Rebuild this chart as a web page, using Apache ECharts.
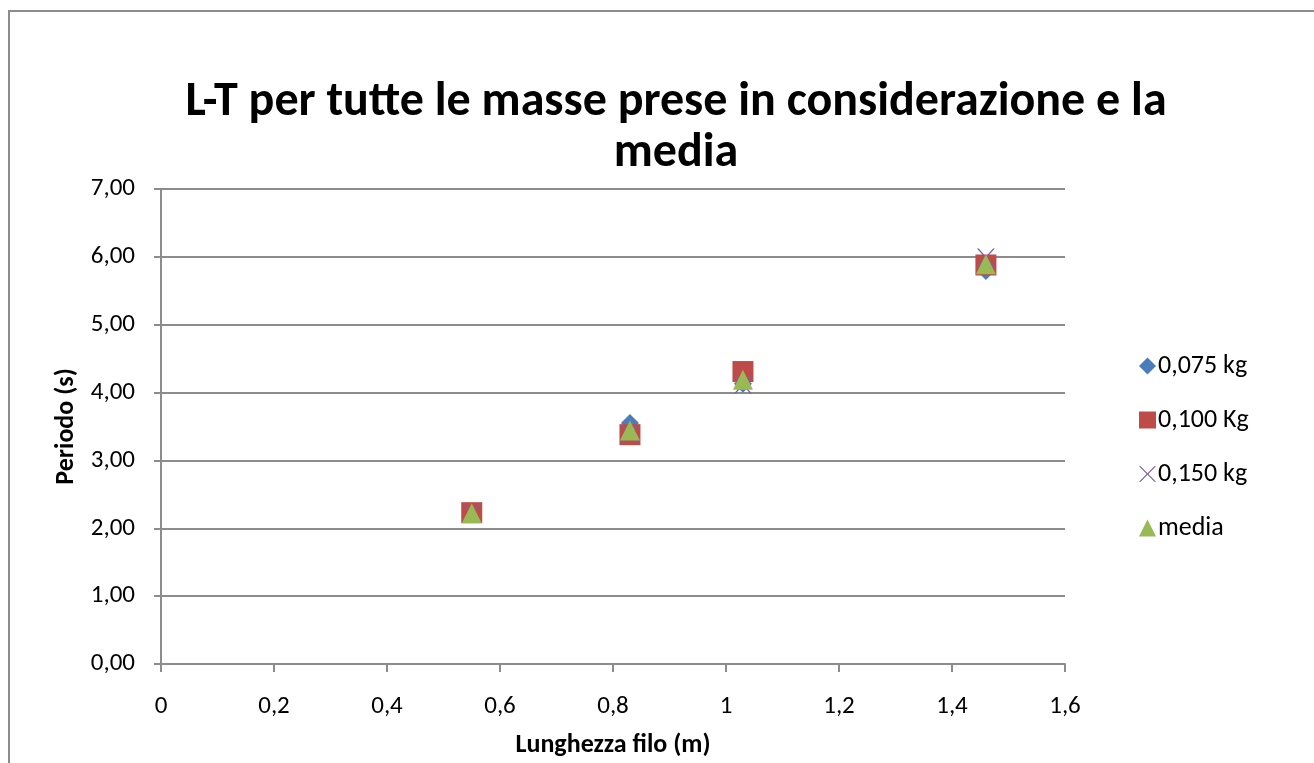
<!DOCTYPE html>
<html>
<head>
<meta charset="utf-8">
<script src="https://cdn.jsdelivr.net/npm/echarts@6/dist/echarts.min.js"></script>
<style>
  html, body { margin: 0; padding: 0; background: #fff; }
  #frame { position: absolute; left: 8px; top: 10px; width: 1320px; height: 780px; border: 2px solid #8c8c8c; box-sizing: border-box; }
  #chart { position: absolute; left: 0; top: 0; width: 1314px; height: 763px; }
</style>
</head>
<body>
<div id="frame"></div>
<div id="chart"></div>
<script>
// Lunghezza del filo (m) e periodo misurato (s) per ciascuna massa
const lunghezze = [0.55, 0.83, 1.03, 1.46];
const periodo075 = [2.22, 3.55, 4.13, 5.79];
const periodo100 = [2.23, 3.38, 4.31, 5.88];
const periodo150 = [2.22, 3.39, 4.12, 5.99];
const periodoMedia = [2.22, 3.44, 4.19, 5.89];

const nomiSerie = ['0,075 kg', '0,100 Kg', '0,150 kg', 'media'];
const xTicks = ['0', '0,2', '0,4', '0,6', '0,8', '1', '1,2', '1,4', '1,6'];

const font = 'Carlito, Calibri, "Open Sans", "Liberation Sans", sans-serif';
const pts = arr => lunghezze.map((x, i) => [x, arr[i]]);

const chart = echarts.init(document.getElementById('chart'), null, { renderer: 'canvas' });

const xPath = 'path://M0,0 L2,0 L10,8 L18,0 L20,0 L11,9 L20,18 L18,18 L10,10 L2,18 L0,18 L9,9 Z';

chart.setOption({
  animation: false,
  title: {
    text: 'L-T per tutte le masse prese in considerazione e la\nmedia',
    left: 671, top: 72, textAlign: 'center',
    textStyle: { fontFamily: font, fontSize: 48, fontWeight: 'bold', color: '#000', lineHeight: 51 }
  },
  legend: {
    orient: 'vertical', left: 1134, top: 348, itemGap: 28, itemWidth: 17, itemHeight: 17,
    textStyle: { fontFamily: font, fontSize: 26, color: '#000', padding: [0, 0, 0, -3] },
    data: nomiSerie
  },
  grid: { left: 161, right: 249, top: 189, bottom: 98 },
  xAxis: {
    type: 'value', min: 0, max: 1.6, interval: 0.2,
    name: 'Lunghezza filo (m)', nameLocation: 'middle', nameGap: 68,
    nameTextStyle: { fontFamily: font, fontSize: 26, fontWeight: 'bold', color: '#000' },
    axisLine: { show: true, onZero: false, lineStyle: { color: '#8c8c8c', width: 2 } },
    axisTick: { show: true, length: 8, lineStyle: { color: '#8c8c8c', width: 2 } },
    axisLabel: { fontFamily: font, fontSize: 25, color: '#000', margin: 30,
      formatter: v => xTicks[Math.round(v / 0.2)] },
    splitLine: { show: false }
  },
  yAxis: {
    type: 'value', min: 0, max: 7, interval: 1,
    name: 'Periodo (s)', nameLocation: 'middle', nameGap: 80, nameRotate: 90,
    nameTextStyle: { fontFamily: font, fontSize: 26, fontWeight: 'bold', color: '#000' },
    axisLine: { show: true, lineStyle: { color: '#8c8c8c', width: 2 } },
    axisTick: { show: true, length: 7, lineStyle: { color: '#8c8c8c', width: 2 } },
    axisLabel: { fontFamily: font, fontSize: 25, color: '#000', margin: 26,
      formatter: v => v.toFixed(2).replace('.', ',') },
    splitLine: { show: true, lineStyle: { color: '#8c8c8c', width: 2 } }
  },
  series: [
    { name: nomiSerie[0], type: 'scatter', data: pts(periodo075), symbol: 'diamond', symbolSize: 18,
      itemStyle: { color: '#4a7ebb', opacity: 1 } },
    { name: nomiSerie[1], type: 'scatter', data: pts(periodo100), symbol: 'rect', symbolSize: 21,
      itemStyle: { color: '#be4b48', opacity: 1 } },
    { name: nomiSerie[2], type: 'scatter', data: pts(periodo150), symbol: xPath, symbolSize: 18,
      itemStyle: { color: '#7d60a0', opacity: 1 } },
    { name: nomiSerie[3], type: 'scatter', data: pts(periodoMedia), symbol: 'triangle', symbolSize: 20,
      itemStyle: { color: '#98b954', opacity: 1 } }
  ]
});
</script>
</body>
</html>
